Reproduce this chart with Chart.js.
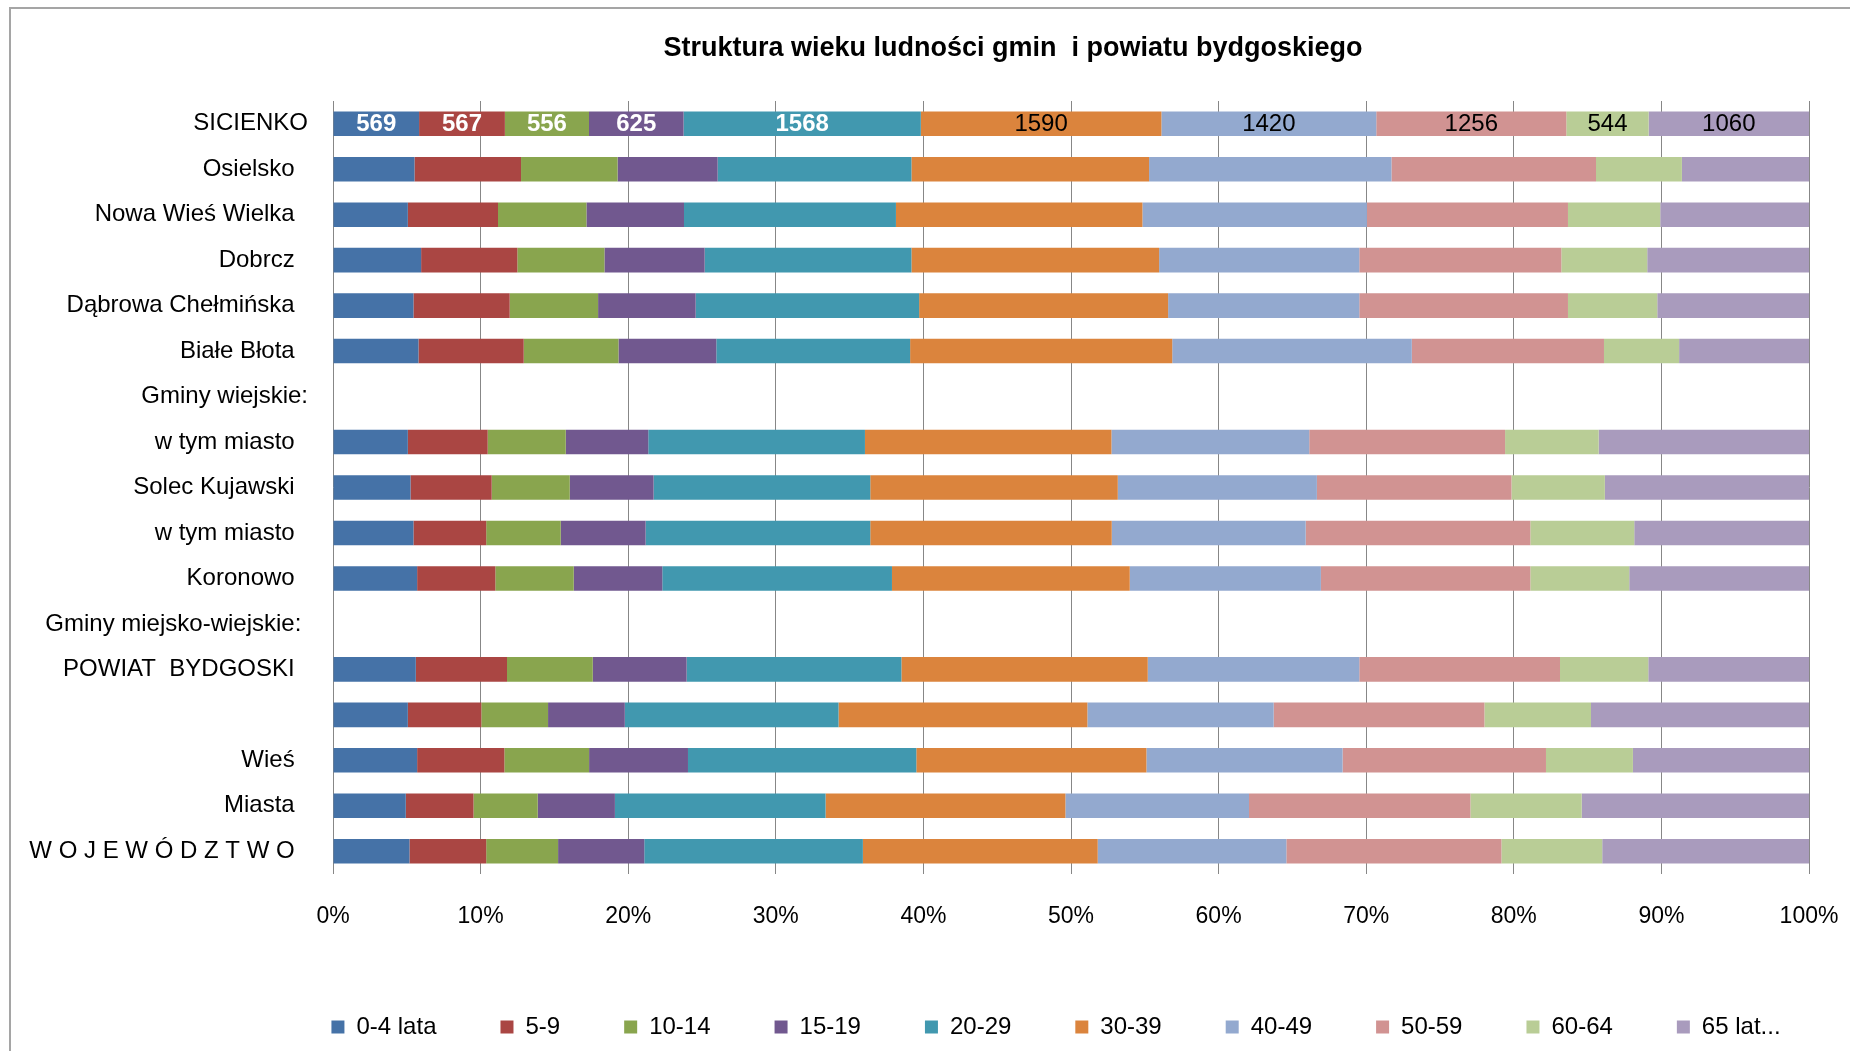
<!DOCTYPE html>
<html lang="pl">
<head>
<meta charset="utf-8">
<title>Struktura wieku ludności gmin i powiatu bydgoskiego</title>
<script src="https://cdn.jsdelivr.net/npm/chart.js@4.4.0/dist/chart.umd.min.js"></script>
<style>
  html, body { margin: 0; padding: 0; background: #fff; overflow: hidden; }
  body { width: 1850px; height: 1051px; position: relative; }
  .frame {
    position: absolute; left: 9px; top: 7px; width: 2100px; height: 1100px;
    border-left: 2px solid #a5a5a5; border-top: 2px solid #a5a5a5;
  }
  #chart { position: absolute; left: 12px; top: 11px; }
</style>
</head>
<body>
<div class="frame"></div>
<canvas id="chart" width="2002" height="1038"></canvas>
<script>
// Categories, top to bottom (trailing spaces as in the source sheet)
const categories = [
  "SICIENKO", "Osielsko  ", "Nowa Wieś Wielka  ", "Dobrcz  ", "Dąbrowa Chełmińska  ",
  "Białe Błota  ", "Gminy wiejskie:", "w tym miasto  ", "Solec Kujawski  ", "w tym miasto  ",
  "Koronowo  ", "Gminy miejsko-wiejskie: ", "POWIAT  BYDGOSKI  ", "", "Wieś  ", "Miasta  ",
  "W O J E W Ó D Z T W O  "
]

const ageGroups = ["0-4 lata", "5-9", "10-14", "15-19", "20-29", "30-39", "40-49", "50-59", "60-64", "65 lat..."]
const colors = ["#4572A7", "#AA4643", "#89A54E", "#71588F", "#4198AF", "#DB843D", "#93A9CF", "#D19392", "#B9CD96", "#A99BBD"]
const tickLabels = ["0%", "10%", "20%", "30%", "40%", "50%", "60%", "70%", "80%", "90%", "100%"]

// SICIENKO in persons, the other rows (%)
const age0_4   = [569, 5.52, 5.07, 5.97, 5.45, 5.79, null, 5.07, 5.25, 5.45, 5.70, null, 5.61, 5.07, 5.70, 4.93, 5.18]
const age5_9   = [567, 7.22, 6.11, 6.52, 6.52, 7.13, null, 5.41, 5.50, 4.93, 5.30, null, 6.18, 4.98, 5.91, 4.59, 5.20]
const age10_14 = [556, 6.54, 5.99, 5.90, 5.99, 6.42, null, 5.29, 5.29, 5.05, 5.31, null, 5.81, 4.52, 5.74, 4.35, 4.87]
const age15_19 = [625, 6.78, 6.61, 6.79, 6.61, 6.63, null, 5.59, 5.68, 5.75, 6.00, null, 6.36, 5.20, 6.70, 5.23, 5.84]
const age20_29 = [1568, 13.13, 14.36, 14.01, 15.14, 13.13, null, 14.68, 14.68, 15.22, 15.56, null, 14.55, 14.48, 15.47, 14.27, 14.81]
const age30_39 = [1590, 16.10, 16.70, 16.78, 16.87, 17.76, null, 16.70, 16.77, 16.36, 16.11, null, 16.69, 16.86, 15.59, 16.25, 15.91]
const age40_49 = [1420, 16.42, 15.21, 13.56, 12.95, 16.23, null, 13.40, 13.49, 13.14, 12.95, null, 14.33, 12.62, 13.29, 12.44, 12.78]
const age50_59 = [1256, 13.86, 13.62, 13.69, 14.14, 13.02, null, 13.27, 13.18, 15.22, 14.19, null, 13.60, 14.28, 13.78, 15.00, 14.57]
const age60_64 = [544, 5.82, 6.25, 5.82, 6.05, 5.09, null, 6.34, 6.33, 7.04, 6.70, null, 5.98, 7.22, 5.89, 7.54, 6.83]
const age65    = [1060, 8.61, 10.08, 10.96, 10.28, 8.80, null, 14.25, 13.83, 11.84, 12.18, null, 10.89, 14.77, 11.93, 15.40, 14.01]

const series = [age0_4, age5_9, age10_14, age15_19, age20_29, age30_39, age40_49, age50_59, age60_64, age65]
const labelledRows = [0]

const family = '"Liberation Sans", Arial, sans-serif'

// 100% stacked: every row divided by its own total
const totals = categories.map((_, j) => series.reduce((s, arr) => s + (arr[j] || 0), 0))

const datasets = ageGroups.map((name, i) => ({
  label: name,
  data: series[i].map((v, j) => (v == null ? null : (v / totals[j]) * 100)),
  backgroundColor: colors[i],
  borderWidth: 0,
  barPercentage: 0.54,
  categoryPercentage: 1,
}))

// numbers on the SICIENKO bar
const valueLabels = {
  id: "valueLabels",
  afterDatasetsDraw(chart) {
    const ctx = chart.ctx
    ctx.save()
    ctx.textAlign = "center"
    ctx.textBaseline = "middle"
    chart.data.datasets.forEach((ds, i) => {
      labelledRows.forEach((row) => {
        const bar = chart.getDatasetMeta(i).data[row]
        const light = i < 5
        ctx.fillStyle = light ? "#fff" : "#000"
        ctx.font = (light ? "bold " : "") + "24px " + family
        ctx.fillText(series[i][row], (bar.x + bar.base) / 2, bar.y + 1)
      })
    })
    ctx.restore()
  },
}

// legend sits a bit right of the title in the original
const legendShift = {
  id: "legendShift",
  afterLayout(chart) {
    chart.legend.left += 43
    chart.legend.right += 43
  },
}

new Chart(document.getElementById("chart"), {
  type: "bar",
  data: { labels: categories, datasets },
  plugins: [valueLabels, legendShift],
  options: {
    indexAxis: "y",
    responsive: false,
    animation: false,
    layout: { padding: 0 },
    scales: {
      x: {
        stacked: true,
        min: 0,
        max: 100,
        ticks: {
          stepSize: 10,
          padding: 29,
          color: "#000",
          font: { size: 23, family },
          callback: (value, i) => tickLabels[i],
        },
        grid: { color: "#878787", drawTicks: false, tickLength: 0 },
        border: { display: false },
        afterFit: (s) => { s.height = 77 },
      },
      y: {
        stacked: true,
        ticks: { padding: 25, color: "#000", font: { size: 24, family }, autoSkip: false },
        grid: { display: false, drawTicks: false, tickLength: 0 },
        border: { display: false },
        afterFit: (s) => { s.width = 321 },
      },
      yRight: {
        type: "category",
        position: "right",
        ticks: { display: false },
        grid: { display: false, drawTicks: false },
        border: { display: false },
        afterFit: (s) => { s.width = 205 },
      },
    },
    plugins: {
      title: {
        display: true,
        text: "Struktura wieku ludności gmin  i powiatu bydgoskiego",
        color: "#000",
        font: { size: 27, weight: "bold", family },
        padding: { top: 21, bottom: 36.6 },
      },
      legend: {
        position: "bottom",
        labels: {
          boxWidth: 13,
          boxHeight: 13,
          padding: 64,
          color: "#000",
          font: { size: 24, family },
        },
      },
      tooltip: { enabled: false },
    },
  },
})
</script>
</body>
</html>
